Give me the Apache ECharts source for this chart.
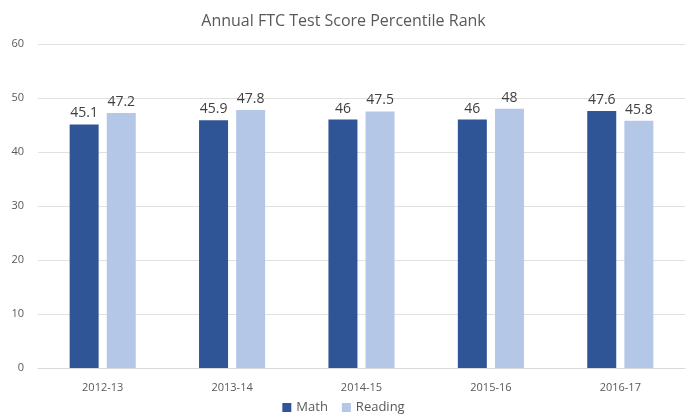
<!DOCTYPE html>
<html>
<head>
<meta charset="utf-8">
<script src="https://cdn.jsdelivr.net/npm/echarts@6/dist/echarts.min.js"></script>
<style>
  html, body { margin: 0; padding: 0; background: #fff; }
  #chart { width: 687px; height: 416px; }
</style>
</head>
<body>
<div id="chart"></div>
<script>
// 数据
const years = ["2012-13", "2013-14", "2014-15", "2015-16", "2016-17"];
const mathScores = [45.1, 45.9, 46, 46, 47.6];
const readingScores = [47.2, 47.8, 47.5, 48, 45.8];

const font = "'Open Sans', 'Liberation Sans', sans-serif";

let myChart = echarts.init(document.getElementById("chart"));
let option = {
  animation: false,
  textStyle: { fontFamily: font },
  title: {
    text: "Annual FTC Test Score Percentile Rank",
    left: "center",
    top: 8,
    textStyle: { fontSize: 16, fontWeight: "normal", color: "#595959", fontFamily: font }
  },
  legend: {
    bottom: -3,
    itemWidth: 9,
    itemHeight: 9,
    itemGap: 14,
    icon: "rect",
    textStyle: { fontSize: 13, color: "#595959", fontFamily: font },
    data: ["Math", "Reading"]
  },
  grid: { left: 38, right: 2, top: 44, bottom: 48 },
  xAxis: {
    type: "category",
    data: years,
    axisLine: { lineStyle: { color: "#d9d9d9" } },
    axisTick: { show: false },
    axisLabel: { color: "#595959", fontSize: 11, margin: 14 }
  },
  yAxis: {
    type: "value",
    min: 0,
    max: 60,
    interval: 10,
    axisLine: { show: false },
    axisTick: { show: false },
    axisLabel: { color: "#595959", fontSize: 11, margin: 14 },
    splitLine: { lineStyle: { color: "#e0e0e0" } }
  },
  series: [
    {
      name: "Math",
      type: "bar",
      data: mathScores,
      barWidth: 29,
      barGap: "28%",
      itemStyle: { color: "#2f5597" },
      label: { show: true, position: "top", color: "#404040", fontSize: 14, distance: 4 }
    },
    {
      name: "Reading",
      type: "bar",
      data: readingScores,
      barWidth: 29,
      itemStyle: { color: "#b4c7e7" },
      label: { show: true, position: "top", color: "#404040", fontSize: 14, distance: 4 }
    }
  ]
};
myChart.setOption(option);
</script>
</body>
</html>
